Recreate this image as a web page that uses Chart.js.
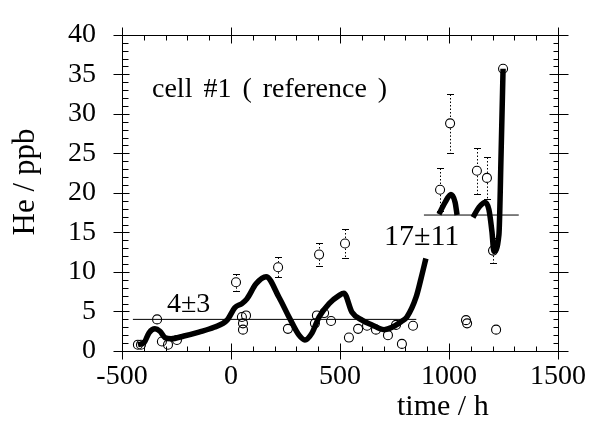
<!DOCTYPE html>
<html>
<head>
<meta charset="utf-8">
<script src="https://cdn.jsdelivr.net/npm/chart.js@4.4.0/dist/chart.umd.min.js"></script>
<style>
  html, body { margin: 0; padding: 0; background: #fff; }
  canvas { display: block; }
</style>
</head>
<body>
<canvas id="heChart" width="595" height="425"></canvas>
<script>
// measured points: time / h, He / ppb, half error bar (0 = none drawn)
const timeH = [-427, -413, -339, -317, -289, -248, 23, 50, 69, 55, 55, 216, 261, 385, 394, 427, 404, 459, 523,
  541, 583, 624, 665, 720, 757, 784, 835, 959, 1005, 1078, 1083, 1128, 1174, 1202, 1216, 1248];
const hePpb = [0.8, 0.8, 4.0, 1.2, 0.8, 1.4, 8.7, 4.3, 4.5, 3.5, 2.7, 10.6, 2.8, 3.5, 4.5, 4.8, 12.2, 3.8, 13.6,
  1.7, 2.8, 3.2, 2.7, 2.0, 3.3, 0.9, 3.2, 20.4, 28.8, 3.9, 3.5, 22.8, 21.9, 12.7, 2.7, 35.7];
const heErr = [0, 0, 0, 0, 0, 0, 1.1, 0, 0, 0, 0, 1.3, 0, 0, 0, 0, 1.5, 0, 1.8,
  0, 0, 0, 0, 0, 0, 0, 0, 2.7, 3.7, 0, 0, 2.9, 2.7, 1.6, 0, 0];

// thick smoothed curve, null splits it into pieces
const fitTime = [-427, -399, -376, -349, -326, -303, -275, -216, -147, -78, -18, 18, 50, 73, 115, 161, 220, 266,
  312, 339, 372, 404, 450, 495, 518, 555, 601, 647, 702, 739, 780, 807, 849, 872, 894,
  925,
  954, 982, 1009, 1028, 1037,
  1075,
  1110, 1138, 1165, 1183, 1197, 1206, 1229, 1239, 1248];
const fitHe = [0.8, 1.05, 2.3, 2.8, 2.5, 1.7, 1.55, 1.9, 2.4, 3.0, 3.9, 5.5, 6.0, 6.6, 8.5, 9.4, 6.8, 4.3,
  2.0, 1.4, 2.3, 4.3, 6.0, 7.0, 7.3, 4.9, 3.9, 3.3, 2.7, 3.0, 3.7, 4.3, 6.8, 9.2, 11.7,
  null,
  17.3, 18.8, 19.8, 18.8, 17.2,
  null,
  16.9, 18.2, 18.8, 17.9, 15.1, 12.6, 14.7, 25.0, 35.7];

// mean levels
const meanLabels = ["4±3", "17±11"];
const meanLevel = [4, 17.2];
const meanFrom = [-450, 885];
const meanTo = [850, 1320];

const xMin = -500, xMax = 1500, xStep = 500, xMinor = 100;
const yMin = 0, yMax = 40, yStep = 5, yMinor = 1;

const serif = '"Liberation Serif", "Times New Roman", serif';
Chart.defaults.font.family = serif;
Chart.defaults.color = '#000';

const meanData = [];
meanLevel.forEach((v, i) => {
  meanData.push({ x: meanFrom[i], y: v }, { x: meanTo[i], y: v });
  if (i < meanLevel.length - 1) meanData.push({ x: meanTo[i] + 1, y: null });
});

const frame = {
  id: 'frame',
  afterDatasetsDraw(chart) {
    const { ctx, chartArea: a, scales: { x, y } } = chart;
    ctx.save();
    ctx.strokeStyle = '#000';
    ctx.lineWidth = 1;

    // error bars
    timeH.forEach((t, i) => {
      if (!heErr[i]) return;
      const px = Math.round(x.getPixelForValue(t)) + 0.5;
      const top = Math.round(y.getPixelForValue(hePpb[i] + heErr[i])) + 0.5;
      const bot = Math.round(y.getPixelForValue(hePpb[i] - heErr[i])) + 0.5;
      const r = 5;
      ctx.setLineDash([1.5, 2]);
      ctx.beginPath();
      ctx.moveTo(px, top); ctx.lineTo(px, y.getPixelForValue(hePpb[i]) - r);
      ctx.moveTo(px, y.getPixelForValue(hePpb[i]) + r); ctx.lineTo(px, bot);
      ctx.stroke();
      ctx.setLineDash([]);
      ctx.beginPath();
      ctx.moveTo(px - 3.5, top); ctx.lineTo(px + 3.5, top);
      ctx.moveTo(px - 3.5, bot); ctx.lineTo(px + 3.5, bot);
      ctx.stroke();
    });

    // frame
    const L = Math.round(a.left) + 0.5, R = Math.round(a.right) + 0.5;
    const T = Math.round(a.top) + 0.5, B = Math.round(a.bottom) + 0.5;
    ctx.beginPath();
    ctx.rect(L, T, R - L, B - T);
    ctx.stroke();

    // ticks
    ctx.beginPath();
    for (let v = xMin; v <= xMax; v += xMinor) {
      const px = Math.round(x.getPixelForValue(v)) + 0.5;
      const major = v % xStep === 0;
      ctx.moveTo(px, B - (major ? 8 : 5)); ctx.lineTo(px, B + (major ? 8 : 0));
      ctx.moveTo(px, T + (major ? 8 : 5)); ctx.lineTo(px, T - (major ? 8 : 0));
    }
    for (let v = yMin; v <= yMax; v += yMinor) {
      const py = Math.round(y.getPixelForValue(v)) + 0.5;
      const major = v % yStep === 0;
      ctx.moveTo(L + (major ? 7 : 6), py); ctx.lineTo(L - (major ? 9 : 0), py);
      ctx.moveTo(R - (major ? 9 : 5), py); ctx.lineTo(R + (major ? 10 : 0), py);
    }
    ctx.stroke();

    // texts
    ctx.fillStyle = '#000';
    ctx.textBaseline = 'alphabetic';
    ctx.textAlign = 'left';
    ctx.font = '28px ' + serif;
    try { ctx.wordSpacing = '4px'; } catch (e) {}
    ctx.fillText('cell #1 ( reference )', 152, 97);
    try { ctx.wordSpacing = '0px'; } catch (e) {}
    ctx.font = '28px ' + serif;
    ctx.fillText(meanLabels[0], 167, 312);
    ctx.font = '30px ' + serif;
    ctx.fillText(meanLabels[1], 384, 245);
    ctx.font = '30px ' + serif;
    ctx.fillText('time / h', 397, 415);

    ctx.translate(34, 182);
    ctx.rotate(-Math.PI / 2);
    ctx.textAlign = 'center';
    ctx.font = '31px ' + serif;
    ctx.fillText('He / ppb', 0, 0);
    ctx.restore();
  }
};

const tickFont = { family: serif, size: 28 };

new Chart(document.getElementById('heChart'), {
  type: 'scatter',
  data: {
    datasets: [
      {
        label: 'He',
        data: timeH.map((t, i) => ({ x: t, y: hePpb[i] })),
        pointRadius: 4.5,
        pointBorderWidth: 1.1,
        borderColor: '#000',
        backgroundColor: 'rgba(0,0,0,0)',
        showLine: false
      },
      {
        label: 'fit',
        type: 'line',
        data: fitTime.map((t, i) => ({ x: t, y: fitHe[i] })),
        borderColor: '#000',
        borderWidth: 5.5,
        pointRadius: 0,
        cubicInterpolationMode: 'monotone',
        spanGaps: false,
        fill: false
      },
      {
        label: 'mean',
        type: 'line',
        data: meanData,
        borderColor: '#000',
        borderWidth: 1,
        pointRadius: 0,
        spanGaps: false,
        fill: false
      }
    ]
  },
  options: {
    responsive: false,
    animation: false,
    layout: { padding: { top: 29, right: 37, left: 0, bottom: 0 } },
    plugins: { legend: { display: false }, tooltip: { enabled: false } },
    scales: {
      x: {
        type: 'linear',
        min: xMin, max: xMax,
        grid: { display: false },
        border: { display: false },
        ticks: {
          stepSize: xStep, padding: 1, maxRotation: 0, autoSkip: false,
          font: tickFont, color: '#000',
          callback: v => String(v)
        },
        afterFit: s => { s.height = 74; }
      },
      y: {
        type: 'linear',
        min: yMin, max: yMax,
        grid: { display: false },
        border: { display: false },
        ticks: { stepSize: yStep, padding: 18, font: tickFont, color: '#000', callback: v => String(v) },
        afterFit: s => { s.width = 122; }
      }
    }
  },
  plugins: [frame]
});
</script>
</body>
</html>
